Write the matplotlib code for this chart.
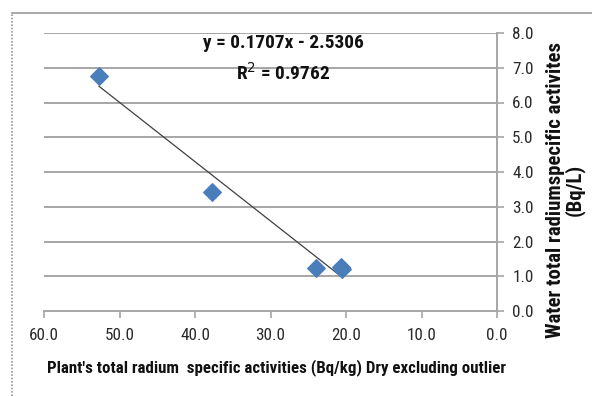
import matplotlib
matplotlib.use("Agg")
import matplotlib.pyplot as plt
from matplotlib.lines import Line2D
from matplotlib import font_manager
import numpy as np

# Data
plant_activity = [52.7, 37.8, 24.0, 20.7, 20.5]
water_activity = [6.75, 3.43, 1.25, 1.28, 1.22]
slope = 0.1707
intercept = -2.5306
r_squared = 0.9762
x_ticks = [60.0, 50.0, 40.0, 30.0, 20.0, 10.0, 0.0]
y_ticks = [0.0, 1.0, 2.0, 3.0, 4.0, 5.0, 6.0, 7.0, 8.0]
x_label = "Plant's total radium  specific activities (Bq/kg) Dry excluding outlier"
y_label = "Water total radiumspecific activites\n(Bq/L)"

installed = {f.name for f in font_manager.fontManager.ttflist}
candidates = ['Roboto Condensed', 'Open Sans Condensed', 'Liberation Sans Narrow',
              'DejaVu Sans Condensed', 'Lato']
main_font = next((c for c in candidates if c in installed), 'Lato')
plt.rcParams['font.family'] = [main_font, 'DejaVu Sans']

W, H = 592, 396
fig = plt.figure(figsize=(W / 100, H / 100), dpi=100)
renderer = fig.canvas.get_renderer()


def fit(t, target, horiz=True):
    bb = t.get_window_extent(renderer)
    size = bb.width if horiz else bb.height
    t.set_fontsize(t.get_fontsize() * target / size)


ax = fig.add_axes([44 / W, 1 - 311 / H, (497 - 44) / W, (311 - 33) / H])

grid_c = '#a6a6a6'
for yv in y_ticks[1:]:
    ax.axhline(yv, color=grid_c, lw=1.4, zorder=1)

ax.scatter(plant_activity, water_activity, marker='D', s=80, color='#4a7ebb',
           edgecolor='#4a7ebb', zorder=3)

xs = np.array([max(plant_activity), min(plant_activity)])
ax.plot(xs, slope * xs + intercept, color='#404040', lw=0.9, zorder=2)

ax.set_xlim(60, 0)
ax.set_ylim(0, 8)
ax.set_xticks(x_ticks)
ax.set_xticklabels([f"{v:.1f}" for v in x_ticks])
ax.set_yticks(y_ticks)
ax.set_yticklabels([f"{v:.1f}" for v in y_ticks])
ax.yaxis.tick_right()

for s in ['left', 'top']:
    ax.spines[s].set_visible(False)
for s in ['right', 'bottom']:
    ax.spines[s].set_color(grid_c)
    ax.spines[s].set_linewidth(1.4)

ax.tick_params(axis='both', colors=grid_c, length=5, width=1.2, labelsize=13.5,
               labelcolor='#2a2a2a')
ax.tick_params(axis='x', pad=7)
ax.tick_params(axis='y', pad=6)
fig.canvas.draw()
lbl = ax.get_xticklabels()[0]
w0 = lbl.get_window_extent(renderer).width
ts = 13.5 * 30 / w0
ax.tick_params(axis='both', labelsize=ts)

xl = fig.text(276.5 / W, 1 - 368 / H, x_label, ha='center', va='center',
              fontsize=13, fontweight='bold', color='#111111')
fit(xl, 455)

yl = fig.text(565 / W, 1 - 190 / H, y_label, ha='center', va='center',
              fontsize=13, fontweight='bold', color='#111111', rotation=90,
              linespacing=0.95, multialignment='center')
fit(yl, 295, horiz=False)

eq = fig.text(283.5 / W, 1 - 43 / H, f"y = {slope}x - {abs(intercept)}", ha='center', va='center',
              fontsize=14, fontweight='bold', color='#111111')
fit(eq, 161)
r2 = fig.text(283.5 / W, 1 - 73 / H, f"R$^2$ = {r_squared}", ha='center', va='center',
              fontsize=eq.get_fontsize(), fontweight='bold', color='#111111')

# outer frame
fig.add_artist(Line2D([12 / W, 1], [1 - 13 / H, 1 - 13 / H], transform=fig.transFigure,
                      color='#999999', lw=1.2))
fig.add_artist(Line2D([12 / W, 12 / W], [0, 1 - 13 / H], transform=fig.transFigure,
                      color='#999999', lw=1.2, ls=(0, (1, 1))))

fig.savefig('out.png', dpi=100)
